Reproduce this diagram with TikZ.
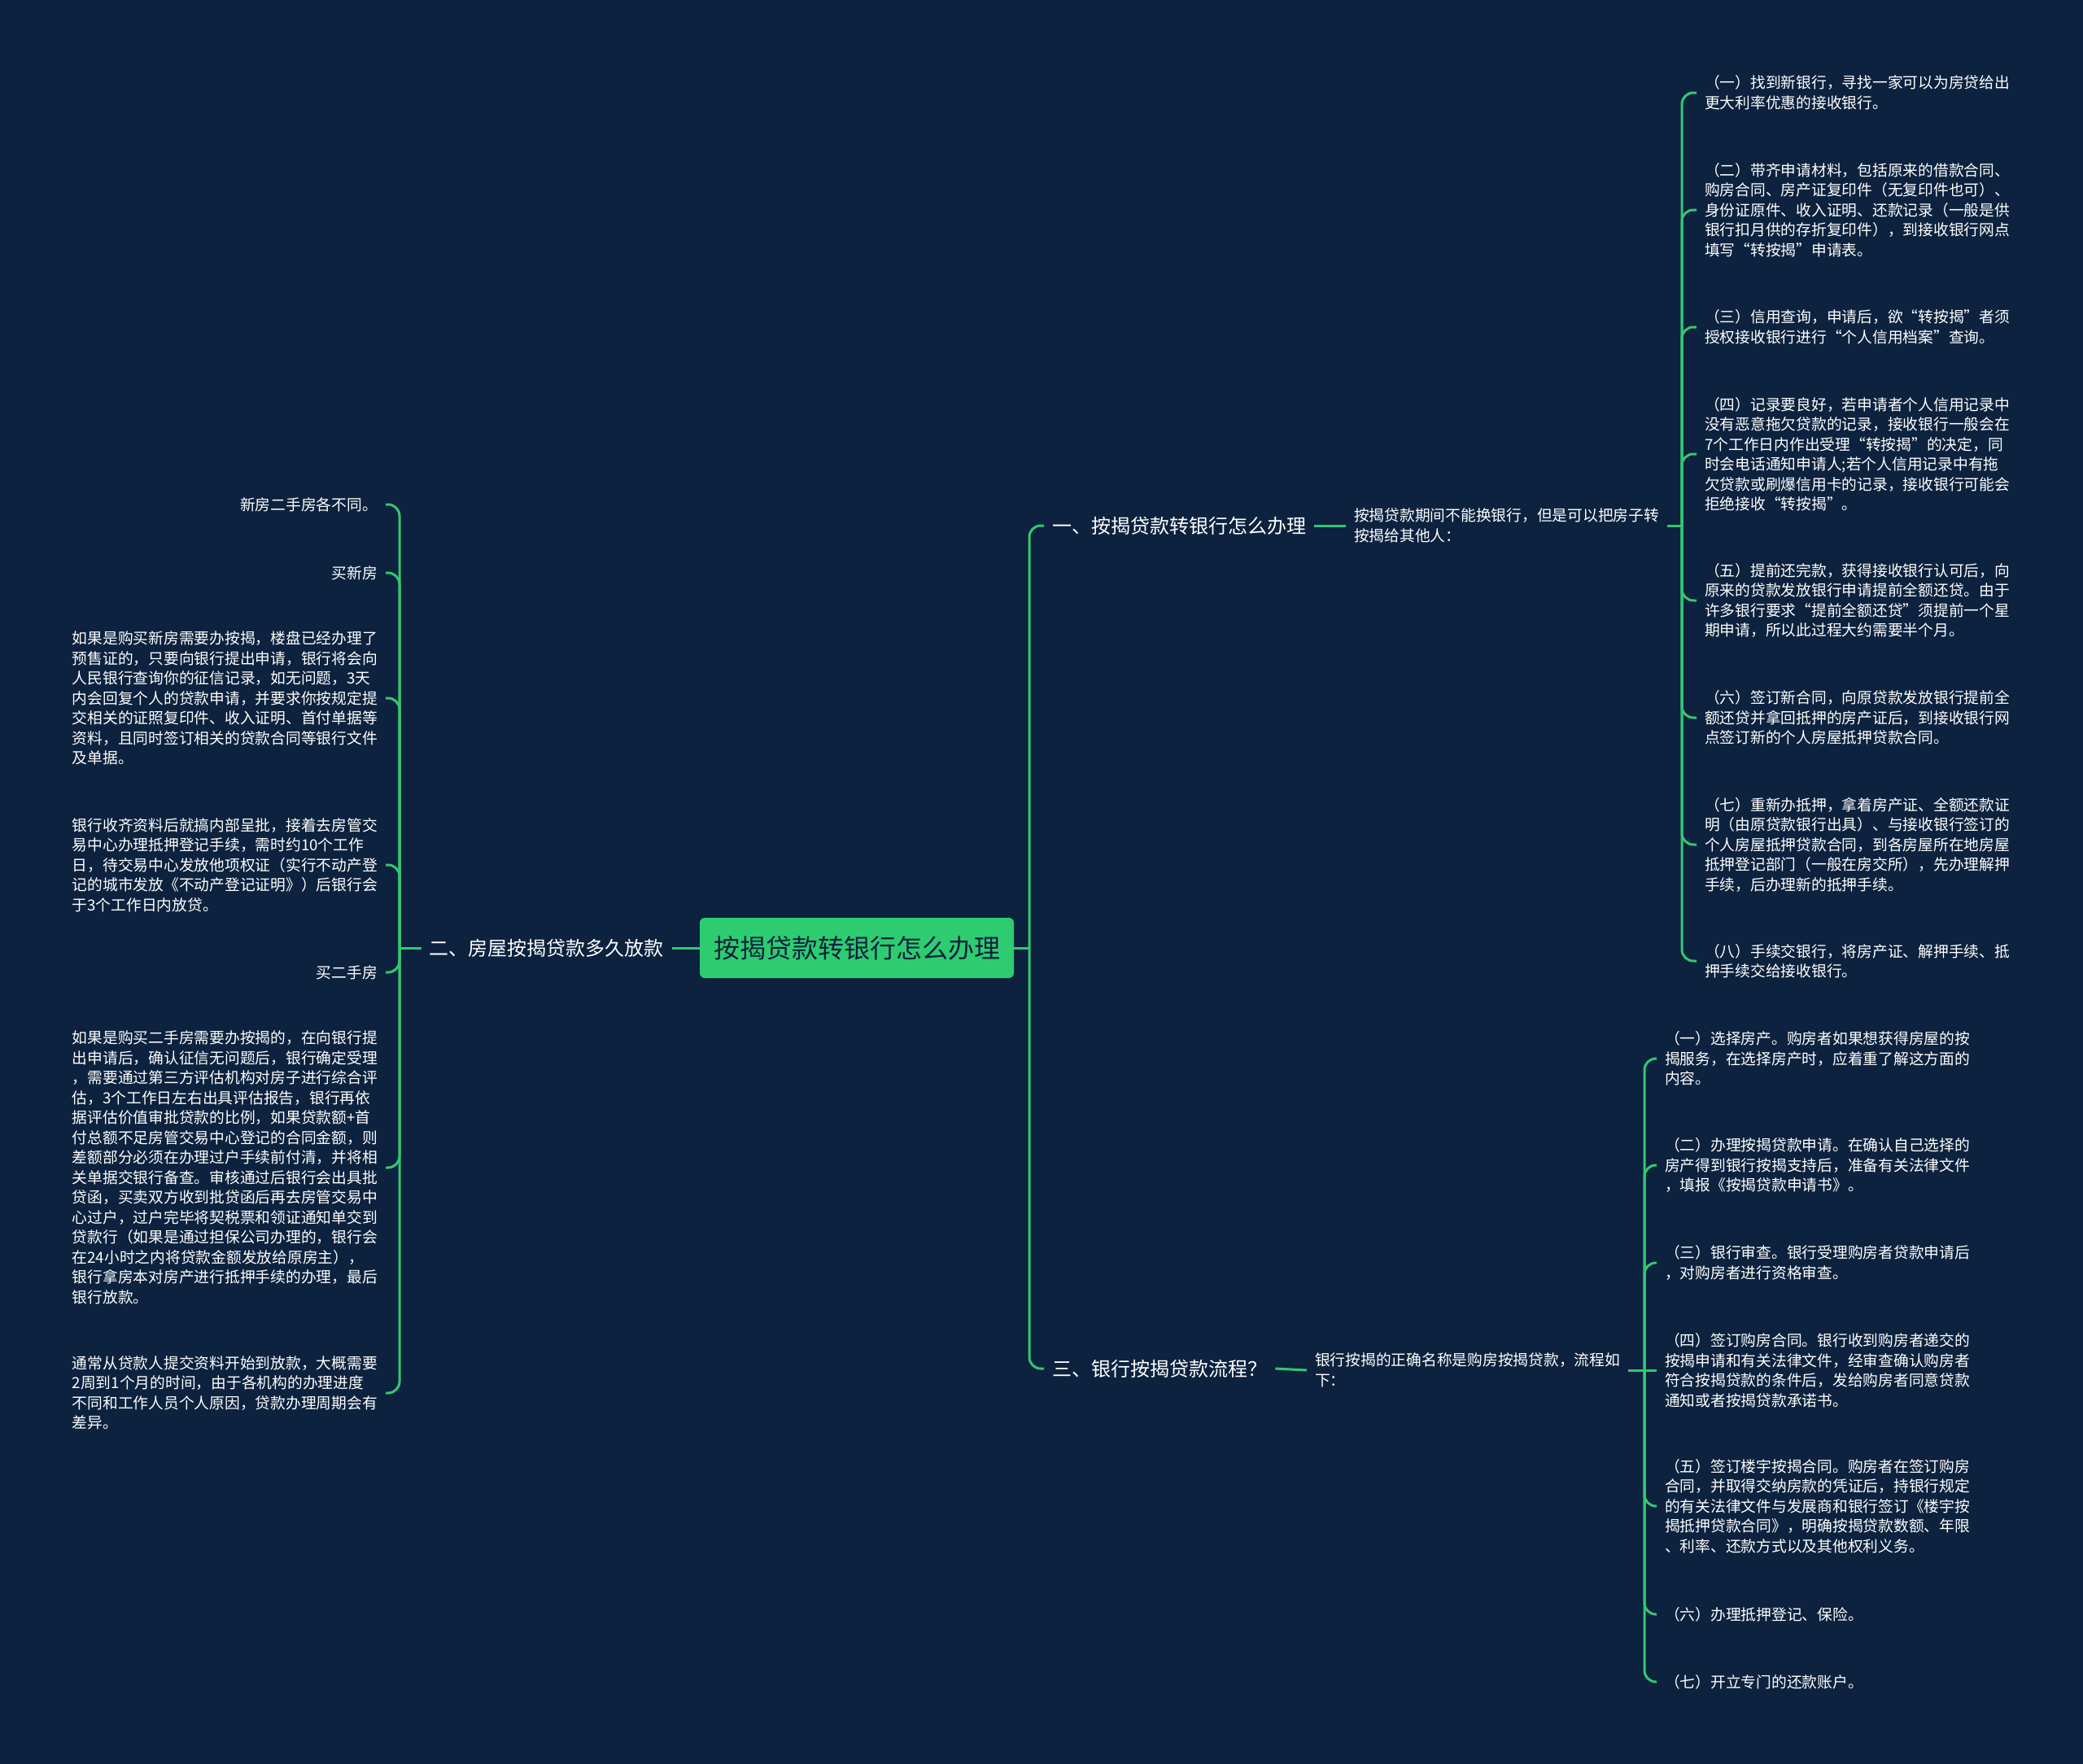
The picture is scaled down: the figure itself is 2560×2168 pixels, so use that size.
\documentclass[tikz,border=0pt]{standalone}
\usepackage{fontspec}
\setmainfont{Noto Sans CJK SC}
\definecolor{bg}{RGB}{12,34,62}
\definecolor{lg}{RGB}{52,199,112}
\definecolor{rootfill}{RGB}{46,204,113}
\definecolor{roottext}{RGB}{12,34,62}
\begin{document}
\begin{tikzpicture}[x=1pt,y=-1pt,
  conn/.style={draw=lg,line width=3pt,rounded corners=14pt},
  rootbox/.style={fill=rootfill,rounded corners=6pt,minimum width=386pt,minimum height=74pt,inner sep=0pt,text=roottext,font=\fontsize{32}{38}\selectfont},
  branch/.style={text=white,inner xsep=10pt,inner ysep=4pt,font=\fontsize{24}{30}\selectfont},
  leaf/.style={text=white,inner xsep=10pt,inner ysep=2pt,align=left,font=\fontsize{18.75}{24.5}\selectfont},
]
\fill[bg] (0,0) rectangle (2560,2168);
\useasboundingbox (0,0) rectangle (2560,2168);

% root and branches
\node[rootbox] (root) at (1053,1165) {按揭贷款转银行怎么办理};
\node[branch,anchor=west] (b1) at (1283,646) {一、按揭贷款转银行怎么办理};
\node[branch,anchor=west] (b3) at (1283,1682) {三、银行按揭贷款流程？};
\node[branch,anchor=east] (b2) at (826,1165) {二、房屋按揭贷款多久放款};

\node[leaf,anchor=west] (s1) at (1654,646) {按揭贷款期间不能换银行，但是可以把房子转\\按揭给其他人：};
\node[leaf,anchor=west] (s3) at (1606,1684) {银行按揭的正确名称是购房按揭贷款，流程如\\下：};

\coordinate (jR) at (1265,1165);
\coordinate (jL) at (491,1165);
\coordinate (j1) at (2067,646);
\coordinate (j3) at (2021,1684);

% right upper leaves
\node[leaf,anchor=west] (a1) at (2085,114) {（一）找到新银行，寻找一家可以为房贷给出\\更大利率优惠的接收银行。};
\node[leaf,anchor=west] (a2) at (2085,258) {（二）带齐申请材料，包括原来的借款合同、\\购房合同、房产证复印件（无复印件也可）、\\身份证原件、收入证明、还款记录（一般是供\\银行扣月供的存折复印件），到接收银行网点\\填写“转按揭”申请表。};
\node[leaf,anchor=west] (a3) at (2085,402) {（三）信用查询，申请后，欲“转按揭”者须\\授权接收银行进行“个人信用档案”查询。};
\node[leaf,anchor=west] (a4) at (2085,558) {（四）记录要良好，若申请者个人信用记录中\\没有恶意拖欠贷款的记录，接收银行一般会在\\7个工作日内作出受理“转按揭”的决定，同\\时会电话通知申请人;若个人信用记录中有拖\\欠贷款或刷爆信用卡的记录，接收银行可能会\\拒绝接收“转按揭”。};
\node[leaf,anchor=west] (a5) at (2085,738) {（五）提前还完款，获得接收银行认可后，向\\原来的贷款发放银行申请提前全额还贷。由于\\许多银行要求“提前全额还贷”须提前一个星\\期申请，所以此过程大约需要半个月。};
\node[leaf,anchor=west] (a6) at (2085,882) {（六）签订新合同，向原贷款发放银行提前全\\额还贷并拿回抵押的房产证后，到接收银行网\\点签订新的个人房屋抵押贷款合同。};
\node[leaf,anchor=west] (a7) at (2085,1038) {（七）重新办抵押，拿着房产证、全额还款证\\明（由原贷款银行出具）、与接收银行签订的\\个人房屋抵押贷款合同，到各房屋所在地房屋\\抵押登记部门（一般在房交所），先办理解押\\手续，后办理新的抵押手续。};
\node[leaf,anchor=west] (a8) at (2085,1181) {（八）手续交银行，将房产证、解押手续、抵\\押手续交给接收银行。};

% right lower leaves
\node[leaf,anchor=west] (c1) at (2036,1301) {（一）选择房产。购房者如果想获得房屋的按\\揭服务，在选择房产时，应着重了解这方面的\\内容。};
\node[leaf,anchor=west] (c2) at (2036,1432) {（二）办理按揭贷款申请。在确认自己选择的\\房产得到银行按揭支持后，准备有关法律文件\\，填报《按揭贷款申请书》。};
\node[leaf,anchor=west] (c3) at (2036,1552) {（三）银行审查。银行受理购房者贷款申请后\\，对购房者进行资格审查。};
\node[leaf,anchor=west] (c4) at (2036,1684) {（四）签订购房合同。银行收到购房者递交的\\按揭申请和有关法律文件，经审查确认购房者\\符合按揭贷款的条件后，发给购房者同意贷款\\通知或者按揭贷款承诺书。};
\node[leaf,anchor=west] (c5) at (2036,1851) {（五）签订楼宇按揭合同。购房者在签订购房\\合同，并取得交纳房款的凭证后，持银行规定\\的有关法律文件与发展商和银行签订《楼宇按\\揭抵押贷款合同》，明确按揭贷款数额、年限\\、利率、还款方式以及其他权利义务。};
\node[leaf,anchor=west] (c6) at (2036,1984) {（六）办理抵押登记、保险。};
\node[leaf,anchor=west] (c7) at (2036,2067) {（七）开立专门的还款账户。};

% left leaves
\node[leaf,anchor=east] (l1) at (474,620) {新房二手房各不同。};
\node[leaf,anchor=east] (l2) at (474,704) {买新房};
\node[leaf,anchor=east] (l3) at (474,858) {如果是购买新房需要办按揭，楼盘已经办理了\\预售证的，只要向银行提出申请，银行将会向\\人民银行查询你的征信记录，如无问题，3天\\内会回复个人的贷款申请，并要求你按规定提\\交相关的证照复印件、收入证明、首付单据等\\资料，且同时签订相关的贷款合同等银行文件\\及单据。};
\node[leaf,anchor=east] (l4) at (474,1063) {银行收齐资料后就搞内部呈批，接着去房管交\\易中心办理抵押登记手续，需时约10个工作\\日，待交易中心发放他项权证（实行不动产登\\记的城市发放《不动产登记证明》）后银行会\\于3个工作日内放贷。};
\node[leaf,anchor=east] (l5) at (474,1195) {买二手房};
\node[leaf,anchor=east] (l6) at (474,1435) {如果是购买二手房需要办按揭的，在向银行提\\出申请后，确认征信无问题后，银行确定受理\\，需要通过第三方评估机构对房子进行综合评\\估，3个工作日左右出具评估报告，银行再依\\据评估价值审批贷款的比例，如果贷款额+首\\付总额不足房管交易中心登记的合同金额，则\\差额部分必须在办理过户手续前付清，并将相\\关单据交银行备查。审核通过后银行会出具批\\贷函，买卖双方收到批贷函后再去房管交易中\\心过户，过户完毕将契税票和领证通知单交到\\贷款行（如果是通过担保公司办理的，银行会\\在24小时之内将贷款金额发放给原房主），\\银行拿房本对房产进行抵押手续的办理，最后\\银行放款。};
\node[leaf,anchor=east] (l7) at (474,1712) {通常从贷款人提交资料开始到放款，大概需要\\2周到1个月的时间，由于各机构的办理进度\\不同和工作人员个人原因，贷款办理周期会有\\差异。};

% connectors
\draw[conn] (root.east) -- (jR);
\draw[conn] (jR) |- (b1.west);
\draw[conn] (jR) |- (b3.west);
\draw[conn] (root.west) -- (b2.east);
\draw[conn] (b2.west) -- (jL);
\foreach \n in {l1,l2,l3,l4,l5,l6,l7} \draw[conn] (jL) |- (\n.east);
\draw[conn] (b1.east) -- (s1.west);
\draw[conn] (s1.east) -- (j1);
\foreach \n in {a1,a2,a3,a4,a5,a6,a7,a8} \draw[conn] (j1) |- (\n.west);
\draw[conn] (b3.east) -- (s3.west);
\draw[conn] (s3.east) -- (j3);
\foreach \n in {c1,c2,c3,c5,c6,c7} \draw[conn] (j3) |- (\n.west);
\draw[conn] (j3) -- (c4.west);
\end{tikzpicture}
\end{document}
